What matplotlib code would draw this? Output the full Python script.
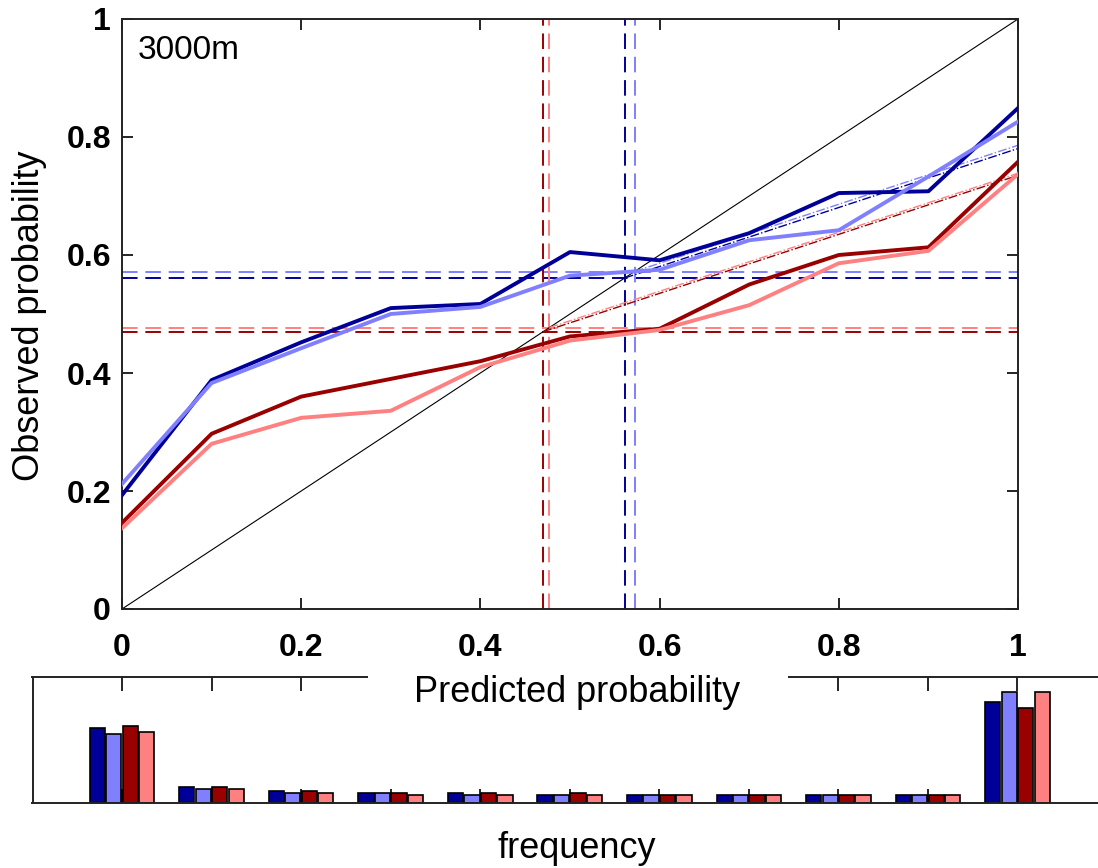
import matplotlib
matplotlib.use("Agg")
import matplotlib.pyplot as plt
from matplotlib.patches import Rectangle
import numpy as np

plt.rcParams['font.family'] = ['Liberation Sans', 'DejaVu Sans']

# predicted probability bins
prob = [0.0, 0.1, 0.2, 0.3, 0.4, 0.5, 0.6, 0.7, 0.8, 0.9, 1.0]

# observed probability for each series
obs_dblue = [0.193, 0.388, 0.452, 0.510, 0.517, 0.605, 0.591, 0.637, 0.705, 0.708, 0.849]
obs_lblue = [0.212, 0.383, 0.442, 0.500, 0.512, 0.565, 0.575, 0.625, 0.642, 0.733, 0.826]
obs_dred = [0.146, 0.297, 0.360, 0.390, 0.420, 0.462, 0.475, 0.550, 0.600, 0.613, 0.758]
obs_lred = [0.137, 0.280, 0.324, 0.336, 0.410, 0.455, 0.473, 0.515, 0.586, 0.607, 0.737]

# climatological frequency for each series
clim = [0.561, 0.572, 0.470, 0.477]

# frequency of forecasts in each bin
freq_dblue = [0.286, 0.060, 0.045, 0.038, 0.038, 0.030, 0.030, 0.030, 0.030, 0.030, 0.384]
freq_lblue = [0.263, 0.053, 0.038, 0.038, 0.030, 0.030, 0.030, 0.030, 0.030, 0.030, 0.421]
freq_dred = [0.293, 0.060, 0.045, 0.038, 0.038, 0.038, 0.030, 0.030, 0.030, 0.030, 0.361]
freq_lred = [0.271, 0.053, 0.038, 0.030, 0.030, 0.030, 0.030, 0.030, 0.030, 0.030, 0.421]

colors = ['#000099', '#8080ff', '#990000', '#ff8080']
obs_all = [obs_dblue, obs_lblue, obs_dred, obs_lred]
freq_all = [freq_dblue, freq_lblue, freq_dred, freq_lred]

fig = plt.figure(figsize=(10.98, 8.68), dpi=100)

# --- reliability diagram ---
ax = fig.add_axes([122/1098, 1 - 609/868, 896/1098, 590/868])
ax.plot([0, 1], [0, 1], color='black', lw=0.8, zorder=2)

for c, col in zip(clim, colors):
    ax.axhline(c, color=col, lw=1.4, ls=(0, (8, 4)), zorder=1)
    ax.axvline(c, color=col, lw=1.4, ls=(0, (8, 4)), zorder=1)
    # no-skill line
    xs = np.array([c, 1.0])
    ax.plot(xs, (xs + c) / 2, color=col, lw=1.0, ls='-.', zorder=2)

for o, col in zip(obs_all, colors):
    ax.plot(prob, o, color=col, lw=2.8, zorder=3)

ax.set_xlim(0, 1)
ax.set_ylim(0, 1)
ax.set_xticks([0, 0.2, 0.4, 0.6, 0.8, 1])
ax.set_xticklabels(['0', '0.2', '0.4', '0.6', '0.8', '1'])
ax.set_yticks([0, 0.2, 0.4, 0.6, 0.8, 1])
ax.set_yticklabels(['0', '0.2', '0.4', '0.6', '0.8', '1'])
ax.tick_params(axis='both', direction='in', length=8, width=1.2,
               top=True, right=True, labelsize=23)
ax.tick_params(axis='x', pad=17)
ax.tick_params(axis='y', pad=8)
for lab in ax.get_xticklabels() + ax.get_yticklabels():
    lab.set_fontweight('bold')
for sp in ax.spines.values():
    sp.set_linewidth(1.4)
    sp.set_color('#222222')

ax.text(0.018, 0.947, '3000m', transform=ax.transAxes, fontsize=24,
        ha='left', va='center')

# --- frequency histogram ---
hx = fig.add_axes([32.5/1098, 1 - 803/868, (1107 - 32.5)/1098, 126/868])
offsets = [-0.0276, -0.0092, 0.0092, 0.0276]
for f, col, off in zip(freq_all, colors, offsets):
    hx.bar(np.array(prob) + off, f, width=0.017, color=col,
           edgecolor='black', linewidth=1.2, zorder=2)
hx.set_xlim(-0.1, 1.1)
hx.set_ylim(0, 0.478)
hx.set_xticks(prob)
hx.set_yticks([])
hx.tick_params(axis='x', direction='in', length=10, width=1.2,
               top=True, bottom=True, labelbottom=False)
for sp in hx.spines.values():
    sp.set_linewidth(1.4)
    sp.set_color('#222222')

# white box behind the x label, covering the histogram frame
fig.patches.append(Rectangle((368/1098, 1 - 714/868), 420/1098, 44/868,
                             transform=fig.transFigure, facecolor='white',
                             edgecolor='none', zorder=5))
fig.text(577/1098, 1 - 693/868, 'Predicted probability', fontsize=26,
         ha='center', va='center', zorder=6)
fig.text(30/1098, 1 - 316/868, 'Observed probability', fontsize=26,
         rotation=90, ha='center', va='center')
fig.text(577/1098, 1 - 849/868, 'frequency', fontsize=26,
         ha='center', va='center')

fig.savefig('out.png', dpi=100)
